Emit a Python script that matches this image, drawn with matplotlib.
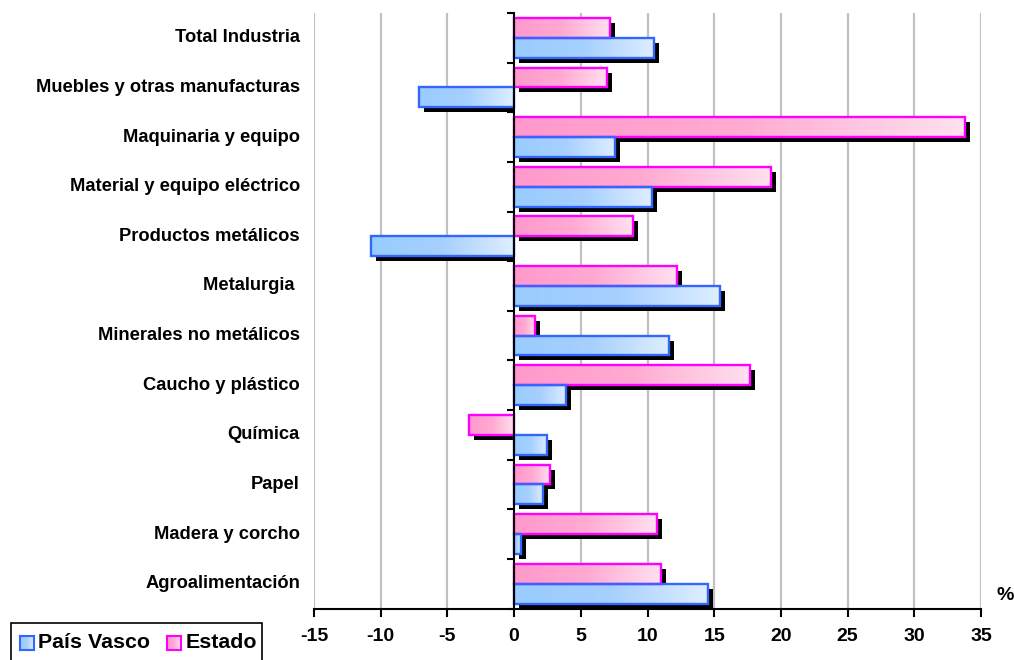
import numpy as np
import matplotlib
matplotlib.use("Agg")
import matplotlib.pyplot as plt
import matplotlib.transforms as mtransforms
from matplotlib.patches import Rectangle
from matplotlib.colors import LinearSegmentedColormap

plt.rcParams["font.family"] = ["Liberation Sans", "DejaVu Sans"]
plt.rcParams["font.weight"] = "bold"

categories = [
    "Total Industria",
    "Muebles y otras manufacturas",
    "Maquinaria y equipo",
    "Material y equipo eléctrico",
    "Productos metálicos",
    "Metalurgia ",
    "Minerales no metálicos",
    "Caucho y plástico",
    "Química",
    "Papel",
    "Madera y corcho",
    "Agroalimentación",
]
pais_vasco = [10.5, -7.1, 7.6, 10.3, -10.7, 15.4, 11.6, 3.9, 2.5, 2.2, 0.5, 14.5]
estado = [7.2, 7.0, 33.8, 19.25, 8.9, 12.2, 1.6, 17.7, -3.4, 2.7, 10.7, 11.0]
x_ticks = [-15, -10, -5, 0, 5, 10, 15, 20, 25, 30, 35]
series_names = ["País Vasco", "Estado"]

blue_cmap = LinearSegmentedColormap.from_list("pv", ["#99ccff", "#a6d0ff", "#deeeff"])
pink_cmap = LinearSegmentedColormap.from_list("es", ["#ff99cc", "#ffaad2", "#ffe0ef"])
blue_edge = "#3366ff"
pink_edge = "#ff00ff"

W, H, DPI = 1014, 660, 100
fig = plt.figure(figsize=(W / DPI, H / DPI), dpi=DPI)
ax_px_w = 667
ax = fig.add_axes([314 / W, 1 - 608.5 / H, ax_px_w / W, (608.5 - 13) / H])

n = len(categories)
ypos = np.arange(n)[::-1]  # first category on top
bar_h = 0.4
x_min, x_max = -15, 35
shadow_px = 5
shadow_dx = shadow_px * (x_max - x_min) / ax_px_w  # shadow offset in data units

gradient = np.linspace(0, 1, 256).reshape(1, -1)
shadow_tr = ax.transData + mtransforms.ScaledTranslation(0, -shadow_px / DPI, fig.dpi_scale_trans)


def draw_bar(value, yc, cmap, edge):
    x0, x1 = min(0, value), max(0, value)
    y0, y1 = yc - bar_h / 2, yc + bar_h / 2
    # drop shadow: shifted right and down, kept on its own side of the zero line
    if value >= 0:
        sx0, sx1 = shadow_dx, x1 + shadow_dx
    else:
        sx0, sx1 = x0 + shadow_dx, 0
    ax.add_patch(Rectangle((sx0, y0), sx1 - sx0, y1 - y0, facecolor="black",
                           edgecolor="none", transform=shadow_tr, zorder=2))
    ax.imshow(gradient, cmap=cmap, extent=[x0, x1, y0, y1], aspect="auto",
              interpolation="bilinear", zorder=3)
    ax.add_patch(Rectangle((x0, y0), x1 - x0, y1 - y0, facecolor="none",
                           edgecolor=edge, linewidth=1.7, zorder=4))


for i in range(n):
    draw_bar(estado[i], ypos[i] + 0.2, pink_cmap, pink_edge)
    draw_bar(pais_vasco[i], ypos[i] - 0.2, blue_cmap, blue_edge)

ax.set_xlim(x_min, x_max)
ax.set_ylim(-0.5, n - 0.5)

# vertical grid
for xv in x_ticks:
    if xv != 0:
        ax.axvline(xv, color="#c0c0c0", linewidth=1.6, zorder=1)

for s in ["top", "right"]:
    ax.spines[s].set_visible(False)
ax.spines["left"].set_position(("data", 0))
ax.spines["left"].set_linewidth(1.5)
ax.spines["left"].set_zorder(5)
ax.spines["bottom"].set_linewidth(1.5)

ax.set_yticks(np.arange(n + 1) - 0.5)
ax.set_yticklabels([])
ax.tick_params(axis="y", direction="out", length=5, width=1.5)
ax.set_xticks(x_ticks)
ax.set_xticklabels([str(v) for v in x_ticks], fontsize=14, fontweight="bold")
ax.tick_params(axis="x", direction="out", length=6, width=1.5, pad=8)

label_tr = mtransforms.blended_transform_factory(fig.transFigure, ax.transData)
for i, name in enumerate(categories):
    ax.text(300 / W, ypos[i], name, transform=label_tr, ha="right", va="center",
            fontsize=13.2, fontweight="bold")

fig.text(1005 / W, 1 - 596 / H, "%", ha="center", va="center", fontsize=14, fontweight="bold")

# legend box at bottom left
fig.patches.append(Rectangle((11 / W, -10 / H), 251 / W, (H - 622.7 + 10) / H,
                             transform=fig.transFigure, facecolor="white",
                             edgecolor="black", linewidth=1.2, clip_on=False, zorder=-1))
for (x0, label, cmap, edge) in [(19.5, series_names[0], blue_cmap, blue_edge),
                                (166.5, series_names[1], pink_cmap, pink_edge)]:
    iax = fig.add_axes([x0 / W, 1 - 649.5 / H, 14 / W, 14 / H])
    iax.imshow(gradient, cmap=cmap, aspect="auto", extent=[0, 1, 0, 1])
    iax.set_xticks([])
    iax.set_yticks([])
    for sp in iax.spines.values():
        sp.set_edgecolor(edge)
        sp.set_linewidth(1.5)
    fig.text((x0 + 19) / W, 1 - 642.5 / H, label, ha="left", va="center",
             fontsize=15.4, fontweight="bold")

fig.savefig("out.png", dpi=DPI, facecolor="white")
